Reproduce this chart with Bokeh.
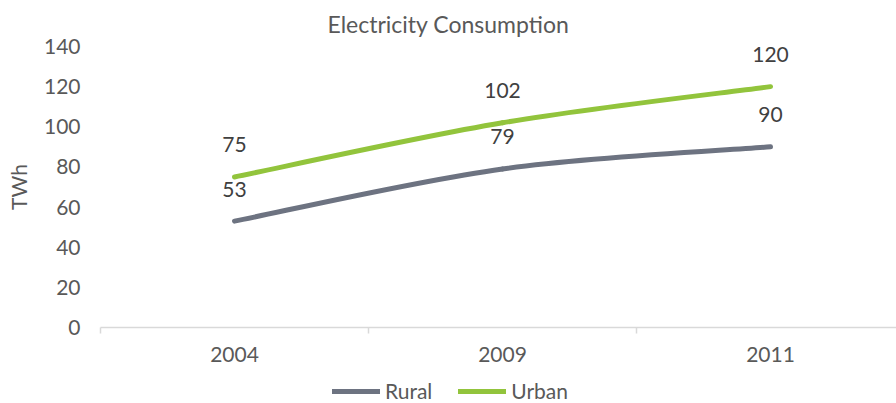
from bokeh.plotting import figure
from bokeh.layouts import column
from bokeh.models import Range1d, FixedTicker, Legend, LegendItem, ColumnDataSource
from bokeh.core.properties import value
from bokeh.embed import file_html
from bokeh.resources import INLINE

years = ["2004", "2009", "2011"]
rural = [53, 79, 90]
urban = [75, 102, 120]
series_names = ["Rural", "Urban"]
y_ticks = [0, 20, 40, 60, 80, 100, 120, 140]

RURAL_C = "#6d7381"
URBAN_C = "#92c43c"
TEXT_C = "#595959"
FONT = "Lato"
FS = "21px"

xs = list(range(len(years)))


def smooth_segments(x, y):
    # Catmull-Rom style smoothing (spreadsheet "smoothed line")
    n = len(x)
    out = dict(x0=[], y0=[], x1=[], y1=[], cx0=[], cy0=[], cx1=[], cy1=[])
    for i in range(n - 1):
        p0 = (x[max(i - 1, 0)], y[max(i - 1, 0)])
        p1 = (x[i], y[i])
        p2 = (x[i + 1], y[i + 1])
        p3 = (x[min(i + 2, n - 1)], y[min(i + 2, n - 1)])
        out["x0"].append(p1[0]); out["y0"].append(p1[1])
        out["x1"].append(p2[0]); out["y1"].append(p2[1])
        out["cx0"].append(p1[0] + (p2[0] - p0[0]) / 6)
        out["cy0"].append(p1[1] + (p2[1] - p0[1]) / 6)
        out["cx1"].append(p2[0] - (p3[0] - p1[0]) / 6)
        out["cy1"].append(p2[1] - (p3[1] - p1[1]) / 6)
    return ColumnDataSource(out)


p = figure(width=896, height=371, output_backend="svg", toolbar_location=None,
           x_range=Range1d(-0.5, 2.47), y_range=Range1d(0, 140),
           min_border_left=100, min_border_right=0, min_border_top=46,
           min_border_bottom=44)
p.outline_line_color = None
p.xgrid.grid_line_color = None
p.ygrid.grid_line_color = None

p.title.text = "Electricity Consumption"
p.title.align = "left"
p.title.offset = 227
p.title.vertical_align = "middle"
p.title.text_font = FONT
p.title.text_font_size = "23px"
p.title.text_font_style = "normal"
p.title.text_color = TEXT_C
p.title.standoff = 15

# x axis
p.xaxis.ticker = FixedTicker(ticks=xs, minor_ticks=[-0.5, 0.5, 1.5, 2.5])
p.xaxis.major_label_overrides = {i: y for i, y in enumerate(years)}
p.xaxis.axis_line_color = "#d9d9d9"
p.xaxis.axis_line_width = 1.5
p.xaxis.major_tick_line_color = None
p.xaxis.major_tick_out = 0
p.xaxis.major_tick_in = 0
p.xaxis.minor_tick_line_color = "#d9d9d9"
p.xaxis.minor_tick_line_width = 1.5
p.xaxis.minor_tick_out = 6
p.xaxis.minor_tick_in = 0
p.xaxis.major_label_standoff = 13
p.xaxis.major_label_text_font = FONT
p.xaxis.major_label_text_font_size = FS
p.xaxis.major_label_text_color = TEXT_C

# y axis
p.yaxis.ticker = FixedTicker(ticks=y_ticks, minor_ticks=[])
p.yaxis.axis_line_color = None
p.yaxis.major_tick_line_color = None
p.yaxis.major_tick_out = 0
p.yaxis.major_tick_in = 0
p.yaxis.minor_tick_line_color = None
p.yaxis.major_label_standoff = 20
p.yaxis.major_label_text_font = FONT
p.yaxis.major_label_text_font_size = FS
p.yaxis.major_label_text_color = TEXT_C
p.yaxis.axis_label = "TWh"
p.yaxis.axis_label_text_font = FONT
p.yaxis.axis_label_text_font_size = FS
p.yaxis.axis_label_text_font_style = "normal"
p.yaxis.axis_label_text_color = TEXT_C
p.yaxis.axis_label_standoff = 10

for vals, col in ((rural, RURAL_C), (urban, URBAN_C)):
    p.bezier(x0="x0", y0="y0", x1="x1", y1="y1", cx0="cx0", cy0="cy0",
             cx1="cx1", cy1="cy1", source=smooth_segments(xs, vals),
             line_color=col, line_width=5, line_cap="round")

for vals in (rural, urban):
    src = ColumnDataSource(dict(x=xs, y=vals, t=[str(v) for v in vals]))
    p.text(x="x", y="y", text="t", source=src, y_offset=-32,
           text_align="center", text_baseline="middle",
           text_font=value(FONT), text_font_size=FS, text_color="#404040")

# legend strip below the chart (series drawn outside its visible range,
# used only to render the legend swatches)
lf = figure(width=896, height=32, output_backend="svg", toolbar_location=None,
            x_range=Range1d(0, 1), y_range=Range1d(-1, 0),
            x_axis_type=None, y_axis_type=None,
            min_border_left=0, min_border_right=0, min_border_top=0,
            min_border_bottom=0)
lf.outline_line_color = None
lf.xgrid.grid_line_color = None
lf.ygrid.grid_line_color = None
items = []
for name, vals, col in zip(series_names, (rural, urban), (RURAL_C, URBAN_C)):
    r = lf.line(x=xs, y=vals, line_color=col, line_width=5, line_cap="round")
    items.append(LegendItem(label=name, renderers=[r]))
legend = Legend(items=items, orientation="horizontal", location=(232, 0),
                glyph_width=48, glyph_height=20, label_standoff=5, spacing=26,
                padding=0, margin=0, border_line_color=None,
                background_fill_alpha=0,
                label_text_font=FONT, label_text_font_size=FS,
                label_text_color=TEXT_C)
lf.add_layout(legend, "center")

layout = column(p, lf, spacing=0)
open("out.html", "w").write(file_html(layout, INLINE))
